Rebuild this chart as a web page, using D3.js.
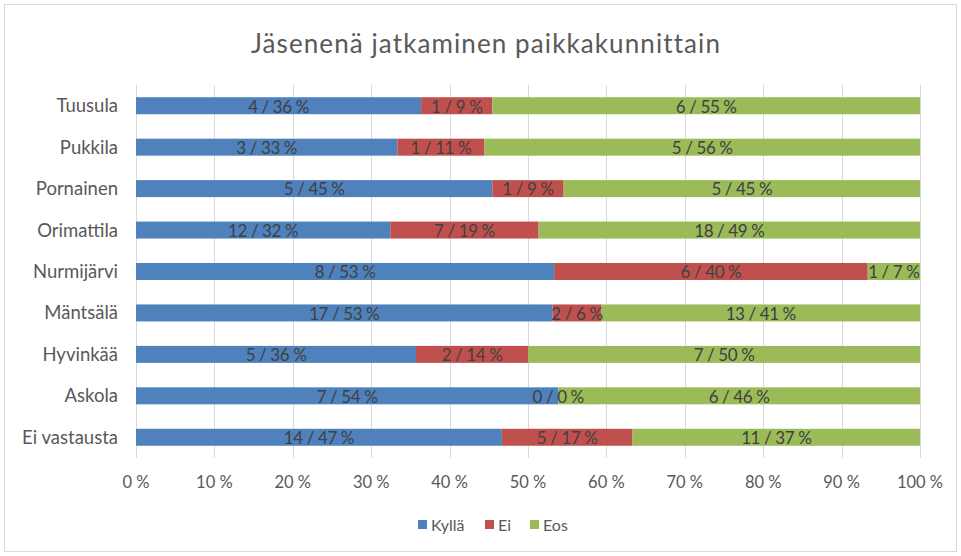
<!DOCTYPE html>
<html>
<head>
<meta charset="utf-8">
<script src="https://cdn.jsdelivr.net/npm/d3@7"></script>
<style>
  body { margin: 0; background: #fff; }
  text { font-family: Lato, "Open Sans", sans-serif; }
</style>
</head>
<body>
<div id="chart"></div>
<script>
// data (answer counts per place)
const places = ["Tuusula", "Pukkila", "Pornainen", "Orimattila", "Nurmijärvi", "Mäntsälä", "Hyvinkää", "Askola", "Ei vastausta"]
const kylla = [4, 3, 5, 12, 8, 17, 5, 7, 14]
const ei    = [1, 1, 1, 7, 6, 2, 2, 0, 5]
const eos   = [6, 5, 5, 18, 1, 13, 7, 6, 11]
const seriesNames = ["Kyllä", "Ei", "Eos"]
const ticks = [0, 0.1, 0.2, 0.3, 0.4, 0.5, 0.6, 0.7, 0.8, 0.9, 1]

const colors = ["#4F81BD", "#C0504D", "#9BBB59"]

const width = 961, height = 556
const margin = { top: 85, right: 41, bottom: 98, left: 136 }

const svg = d3.select("#chart").append("svg")
  .attr("width", width)
  .attr("height", height)

// outer frame
svg.append("rect")
  .attr("x", 4.5).attr("y", 4.5)
  .attr("width", width - 9).attr("height", height - 9)
  .attr("fill", "#fff")
  .attr("stroke", "#D9D9D9")

svg.append("text")
  .attr("x", 486).attr("y", 53)
  .attr("text-anchor", "middle")
  .attr("font-size", 26)
  .attr("letter-spacing", 1.1)
  .attr("fill", "#595959")
  .text("Jäsenenä jatkaminen paikkakunnittain")

const rows = places.map((p, i) => {
  const vals = [kylla[i], ei[i], eos[i]]
  const total = d3.sum(vals)
  let acc = 0
  return { place: p, segs: vals.map((v, j) => {
    const s = { n: v, x0: acc / total, x1: (acc + v) / total, k: j }
    acc += v
    return s
  }) }
})

const x = d3.scaleLinear().domain([0, 1]).range([margin.left, width - margin.right])
const y = d3.scaleBand().domain(places).range([margin.top, height - margin.bottom]).paddingInner(0.59).paddingOuter(0.295)

// gridlines
svg.append("g").selectAll("line").data(ticks).join("line")
  .attr("x1", d => Math.round(x(d)) + 0.5).attr("x2", d => Math.round(x(d)) + 0.5)
  .attr("y1", margin.top).attr("y2", height - margin.bottom)
  .attr("stroke", "#D9D9D9")

// x tick labels
svg.append("g").selectAll("text").data(ticks).join("text")
  .attr("x", d => x(d)).attr("y", 488)
  .attr("text-anchor", "middle")
  .attr("font-size", 16.5)
  .attr("fill", "#595959")
  .text(d => Math.round(d * 100) + " %")

// category labels
svg.append("g").selectAll("text").data(places).join("text")
  .attr("x", 118).attr("y", d => y(d) + y.bandwidth() / 2)
  .attr("dy", "0.35em")
  .attr("text-anchor", "end")
  .attr("font-size", 18.5)
  .attr("fill", "#595959")
  .text(d => d)

const row = svg.append("g").selectAll("g").data(rows).join("g")

row.selectAll("rect").data(d => d.segs.map(s => ({ ...s, place: d.place }))).join("rect")
  .attr("x", d => x(d.x0))
  .attr("width", d => x(d.x1) - x(d.x0))
  .attr("y", d => y(d.place))
  .attr("height", y.bandwidth())
  .attr("fill", d => colors[d.k])

row.selectAll("text").data(d => d.segs.map(s => ({ ...s, place: d.place }))).join("text")
  .attr("x", d => x((d.x0 + d.x1) / 2))
  .attr("y", d => y(d.place) + y.bandwidth() / 2)
  .attr("dy", "0.4em")
  .attr("text-anchor", "middle")
  .attr("font-size", 17)
  .attr("letter-spacing", -0.4)
  .attr("fill", "#404040")
  .text(d => d.n + " / " + Math.round((d.x1 - d.x0) * 100) + " %")

// legend
const legendX = [418, 485, 530]
const lg = svg.append("g").selectAll("g").data(seriesNames).join("g")
  .attr("transform", (d, i) => "translate(" + legendX[i] + ",525)")
lg.append("rect")
  .attr("x", 0).attr("y", -5).attr("width", 9).attr("height", 9)
  .attr("fill", (d, i) => colors[i])
lg.append("text")
  .attr("x", 13).attr("y", 0)
  .attr("dy", "0.36em")
  .attr("font-size", 16)
  .attr("fill", "#595959")
  .text(d => d)
</script>
</body>
</html>
